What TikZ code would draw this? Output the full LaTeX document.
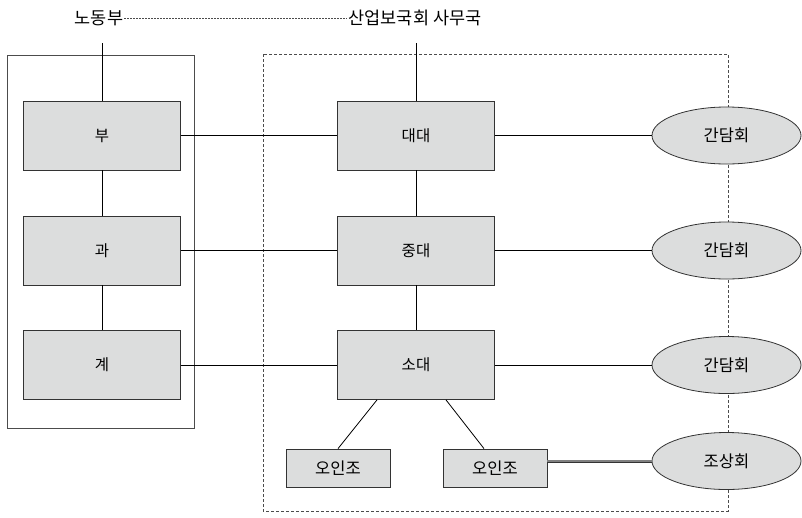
\documentclass[tikz,border=0pt]{standalone}
\usepackage{fontspec}
\setmainfont{Noto Sans CJK KR}
\usetikzlibrary{shapes.geometric}
\definecolor{boxfill}{HTML}{DCDDDD}
\definecolor{edge}{HTML}{333333}
\begin{document}
\begin{tikzpicture}[x=1pt,y=-1pt,
  unitbox/.style={draw=edge,fill=boxfill,line width=0.8pt,inner sep=0pt,font=\fontsize{15.5}{17}\selectfont},
  bigbox/.style={unitbox,minimum width=157pt,minimum height=69pt},
  smallbox/.style={unitbox,minimum width=104pt,minimum height=38pt,font=\fontsize{16.5}{18}\selectfont},
  meet/.style={draw=edge,fill=boxfill,line width=0.8pt,ellipse,inner sep=0pt,minimum width=149pt,minimum height=57pt,font=\fontsize{16.5}{18}\selectfont},
  link/.style={draw=black,line width=0.8pt},
  title/.style={inner sep=1pt,font=\fontsize{17.5}{19}\selectfont}]
\useasboundingbox (0,0) rectangle (802,517);
% frames
\draw[draw=black!70,line width=0.8pt] (7,55) rectangle (194,428);
\draw[draw=black!70,line width=0.8pt,dash pattern=on 3pt off 2pt] (263,54) rectangle (728,511);
% titles
\node[title] (labor) at (99,18) {노동부};
\node[title] (office) at (415,18) {산업보국회 사무국};
\draw[black!70,line width=0.6pt,dash pattern=on 1.5pt off 1.5pt] (labor.east) -- (office.west);
% left column
\node[bigbox] (bu) at (102,135.5) {부};
\node[bigbox] (gwa) at (102,250.5) {과};
\node[bigbox] (gye) at (102,365) {계};
% middle column
\node[bigbox] (dd) at (416,135.5) {대대};
\node[bigbox] (jd) at (416,250.5) {중대};
\node[bigbox] (sd) at (416,365) {소대};
% small boxes
\node[smallbox] (o1) at (338,468) {오인조};
\node[smallbox] (o2) at (495,468) {오인조};
% ellipses
\node[meet] (m1) at (726.5,135.5) {간담회};
\node[meet] (m2) at (726.5,250.5) {간담회};
\node[meet] (m3) at (726.5,365) {간담회};
\node[meet] (m4) at (726.5,461) {조상회};
% top stubs
\coordinate (ltop) at (102,43);
\coordinate (rtop) at (416,43);
\draw[link] (ltop) -- (bu.north);
\draw[link] (rtop) -- (dd.north);
% verticals
\draw[link] (bu) -- (gwa);
\draw[link] (gwa) -- (gye);
\draw[link] (dd) -- (jd);
\draw[link] (jd) -- (sd);
% horizontals
\draw[link] (bu) -- (dd);
\draw[link] (gwa) -- (jd);
\draw[link] (gye) -- (sd);
\draw[link] (dd) -- (m1);
\draw[link] (jd) -- (m2);
\draw[link] (sd) -- (m3);
% branches
\draw[link] ([xshift=-39pt]sd.south) -- (o1.north);
\draw[link] ([xshift=30pt]sd.south) -- ([xshift=-11pt]o2.north);
% double connector
\draw[draw=black!80,double=black!50,double distance=1.6pt,line width=0.7pt] (o2.east |- m4) -- (m4.west);
\end{tikzpicture}
\end{document}
